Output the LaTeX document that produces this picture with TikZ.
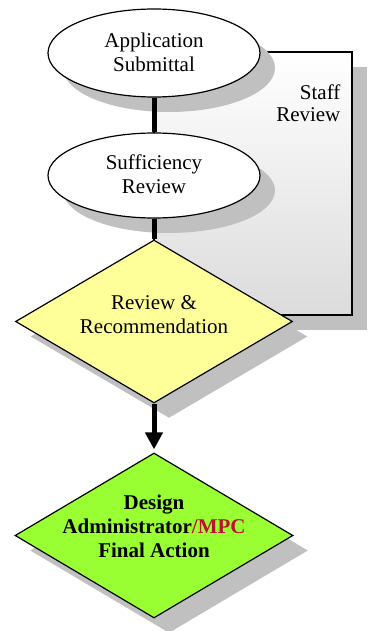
\documentclass[tikz,border=0pt]{standalone}
\usepackage{fontspec}
\IfFontExistsTF{LiberationSerif-Regular.ttf}
  {\setmainfont{LiberationSerif}[Extension=.ttf,UprightFont=*-Regular,BoldFont=*-Bold,ItalicFont=*-Italic,BoldItalicFont=*-BoldItalic]}
  {\setmainfont{Liberation Serif}}
\usetikzlibrary{shapes.geometric,shadows,arrows.meta}
\definecolor{shadowgray}{RGB}{192,192,192}
\definecolor{ryellow}{RGB}{255,255,153}
\definecolor{rgreen}{RGB}{153,255,51}
\definecolor{mpcred}{RGB}{190,16,48}
\begin{document}
\begin{tikzpicture}[x=1pt,y=-1pt,
  shad/.style={drop shadow={shadow xshift=15pt,shadow yshift=-15pt,opacity=1,fill=shadowgray}},
  oval/.style={ellipse,draw=black,line width=1.2pt,fill=white,shad,inner sep=0pt,minimum width=212pt},
  dia/.style={diamond,draw=black,line width=1.2pt,shad,inner sep=0pt},
  lbl/.style={align=center,font=\rmfamily\fontsize{21}{24}\selectfont},
  conn/.style={line width=5pt,black}
]
\useasboundingbox (0,0) rectangle (367,631);
% staff review box
\node[rectangle,draw=black,line width=1.2pt,top color=white,bottom color=black!14,shad,
      minimum width=198pt,minimum height=263pt,inner sep=0pt] (staff) at (253,183.5) {};
\node[anchor=north east,align=right,font=\rmfamily\fontsize{21}{22}\selectfont,inner sep=0pt] (stafftxt)
      at ([xshift=-12pt,yshift=-33pt]staff.north east) {Staff\\Review};
% ellipses
\node[oval,minimum height=88pt] (e1) at (154,53) {};
\node[lbl] (t1) at (154,52) {Application\\Submittal};
\node[oval,minimum height=85pt] (e2) at (154,175.5) {};
\node[lbl] (t2) at (154,174) {Sufficiency\\Review};
% diamonds
\node[dia,fill=ryellow,minimum width=277pt,minimum height=163pt] (d1) at (154,321.5) {};
\node[lbl] (t3) at (154,315) {Review \&\\Recommendation};
\node[dia,fill=rgreen,minimum width=278pt,minimum height=165pt] (d2) at (154,535.5) {};
\node[lbl,font=\rmfamily\fontsize{21}{24}\selectfont\bfseries] (t4) at (154,526)
  {Design\\Administrator\textcolor{mpcred}{/MPC}\\Final Action};
% connectors
\draw[conn] (e1.south) -- (e2.north);
\draw[conn] (e2.south) -- (d1.north);
\draw[conn,-{Triangle[width=17pt,length=17pt]},shorten >=3pt] (d1.south) -- (d2.north);
\end{tikzpicture}
\end{document}
